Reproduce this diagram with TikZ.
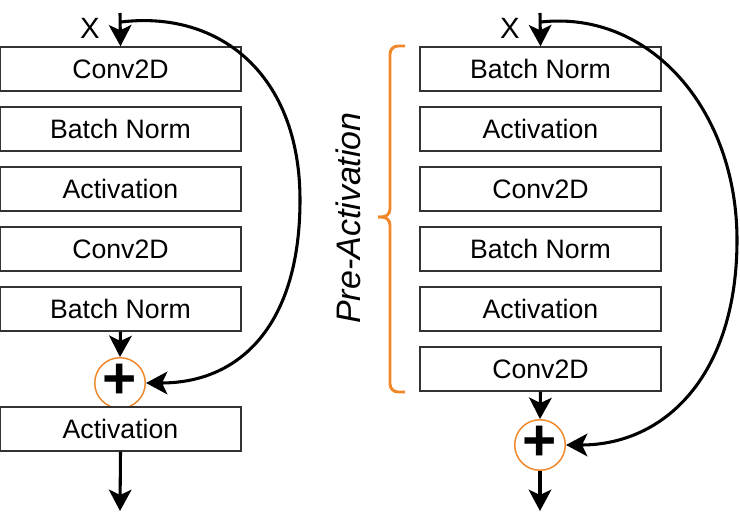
\documentclass[tikz,border=0pt]{standalone}
\usepackage{fontspec}
\setmainfont{Liberation Sans}
\usetikzlibrary{positioning, arrows.meta, calc}
\usepackage{xcolor}
\definecolor{rborder}{HTML}{333333}
\definecolor{rorange}{HTML}{F0882A}

\begin{document}
\begin{tikzpicture}[x=0.75pt, y=-0.75pt,
          b/.style={draw=rborder, fill=white, line width=1.1pt, font=\fontsize{20}{22}\selectfont, minimum width=180.75pt, minimum height=33pt, inner sep=0pt},
          sum/.style={circle, draw=rorange, fill=white, line width=1.1pt, minimum size=33pt, inner sep=0pt, font=\fontsize{44}{44}\selectfont\bfseries},
          ar/.style={-{Stealth[inset=4pt, length=16pt, width=17pt]}, line width=2.3pt}]
        \useasboundingbox (0,0) rectangle (740,527);
        % plain residual block
        \node[font=\fontsize{22}{24}\selectfont] (lx) at (90,28) {X};
        \coordinate (lin) at (120,13);
        \coordinate (lsplit) at (121,22);
        \node[b] (l1) at (120.5,69) {Conv2D};
        \node[b] (l2) at (120.5,129) {Batch Norm};
        \node[b] (l3) at (120.5,189) {Activation};
        \node[b] (l4) at (120.5,249) {Conv2D};
        \node[b] (l5) at (120.5,309) {Batch Norm};
        \node[sum] (ls) at (120,383) {\raisebox{0.05em}{+}};
        \node[b] (l6) at (120.5,429) {Activation};
        \coordinate (lout) at (120,511);
        \draw[ar] (lin) -- (l1.north);
        \draw[ar] (l5.south) -- (ls.north);
        \draw[ar] (l6.south) -- (lout);
        \draw[ar] (lsplit) .. controls (220,10) and (300,75) .. (300,200) .. controls (300,325) and (240,383) .. (ls.east);
        % pre-activation block
        \node[font=\fontsize{22}{24}\selectfont] (rx) at (510,28) {X};
        \coordinate (rin) at (540,13);
        \coordinate (rsplit) at (541,22);
        \node[b] (r1) at (540.5,69) {Batch Norm};
        \node[b] (r2) at (540.5,129) {Activation};
        \node[b] (r3) at (540.5,189) {Conv2D};
        \node[b] (r4) at (540.5,249) {Batch Norm};
        \node[b] (r5) at (540.5,309) {Activation};
        \node[b] (r6) at (540.5,369) {Conv2D};
        \node[sum] (rs) at (540,445) {\raisebox{0.05em}{+}};
        \coordinate (rout) at (540,511);
        \draw[ar] (rin) -- (r1.north);
        \draw[ar] (r6.south) -- (rs.north);
        \draw[ar] (rs.south) -- (rout);
        \draw[ar] (rsplit) .. controls (650,10) and (737,110) .. (737,240) .. controls (737,375) and (665,445) .. (rs.east);
        % brace
        \draw[rorange, line width=2.2pt, rounded corners=6pt] (405,46) -- (390,46) -- (390,217) -- (378,217);
        \draw[rorange, line width=2.2pt, rounded corners=6pt] (405,392) -- (390,392) -- (390,217) -- (378,217);
        \node[rotate=90, font=\fontsize{25.5}{28}\selectfont\itshape] (pre) at (348,218) {Pre-Activation};
      \end{tikzpicture}
\end{document}
